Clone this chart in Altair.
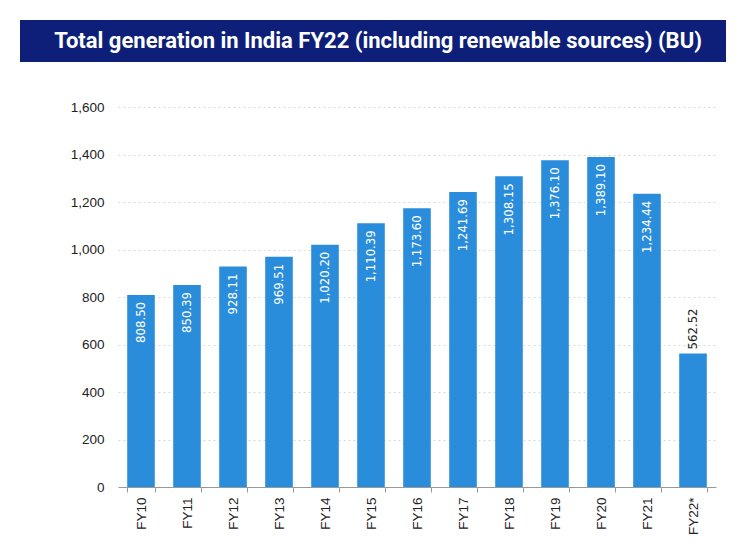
import altair as alt
import pandas as pd

years = ["FY10", "FY11", "FY12", "FY13", "FY14", "FY15", "FY16", "FY17",
         "FY18", "FY19", "FY20", "FY21", "FY22*"]
values = [808.50, 850.39, 928.11, 969.51, 1020.20, 1110.39, 1173.60, 1241.69,
          1308.15, 1376.10, 1389.10, 1234.44, 562.52]
inside = [True] * 12 + [False]
title_text = "Total generation in India FY22 (including renewable sources) (BU)"
y_ticks = [0, 200, 400, 600, 800, 1000, 1200, 1400, 1600]

df = pd.DataFrame({"year": years, "value": values, "inside": inside})

BAR = "#2a8ddb"
NAVY = "#0d1f78"
W, H = 598, 380
LABEL_FONT = "DejaVu Sans Condensed, Roboto Condensed, Liberation Sans Narrow, sans-serif"

x_enc = alt.X("year:N", sort=years, title=None,
              scale=alt.Scale(paddingInner=0.4, paddingOuter=0.2),
              axis=alt.Axis(labelAngle=270, labelAlign="right", labelBaseline="middle",
                            labelFontSize=13.5, labelColor="#222", labelPadding=5,
                            labelFont="Liberation Sans",
                            tickBand="extent", tickSize=5, tickColor="#999",
                            domainColor="#999", grid=False))
y_enc = alt.Y("value:Q", title=None,
              scale=alt.Scale(domain=[0, 1600], nice=False),
              axis=alt.Axis(values=y_ticks, format=",d", labelFontSize=13.5,
                            labelColor="#222", labelFont="Liberation Sans",
                            labelPadding=14, ticks=False, domain=False,
                            grid=True, gridColor="#d8d8d8", gridDash=[2, 3]))

base = alt.Chart(df)
bars = base.mark_bar(color=BAR).encode(x=x_enc, y=y_enc)

lab_in = base.transform_filter("datum.inside").mark_text(
    angle=270, align="right", baseline="middle", dx=-7, color="white",
    fontSize=13, font=LABEL_FONT
).encode(x=alt.X("year:N", sort=years), y="value:Q",
         text=alt.Text("value:Q", format=",.2f"))

lab_out = base.transform_filter("!datum.inside").mark_text(
    angle=270, align="left", baseline="middle", dx=4, color="#222",
    fontSize=13, font=LABEL_FONT
).encode(x=alt.X("year:N", sort=years), y="value:Q",
         text=alt.Text("value:Q", format=",.2f"))

title_df = pd.DataFrame({"t": [title_text]})
title_bar = alt.Chart(title_df).mark_rect(color=NAVY).encode(
    x=alt.value(-98), x2=alt.value(619), y=alt.value(-87), y2=alt.value(-45))
title_txt = alt.Chart(title_df).mark_text(
    color="white", fontSize=22, fontWeight="bold", font="Roboto",
    align="center", baseline="middle"
).encode(x=alt.value(260), y=alt.value(-66), text="t:N")

chart = alt.layer(title_bar, title_txt, bars, lab_in, lab_out).properties(
    width=W, height=H,
    background="white",
    padding={"left": 110, "top": 99, "right": 10, "bottom": 60},
    autosize=alt.AutoSizeParams(type="none"),
).configure_view(strokeWidth=0, stroke=None)

chart.save("out.html", embed_options={"renderer": "svg", "actions": False})
